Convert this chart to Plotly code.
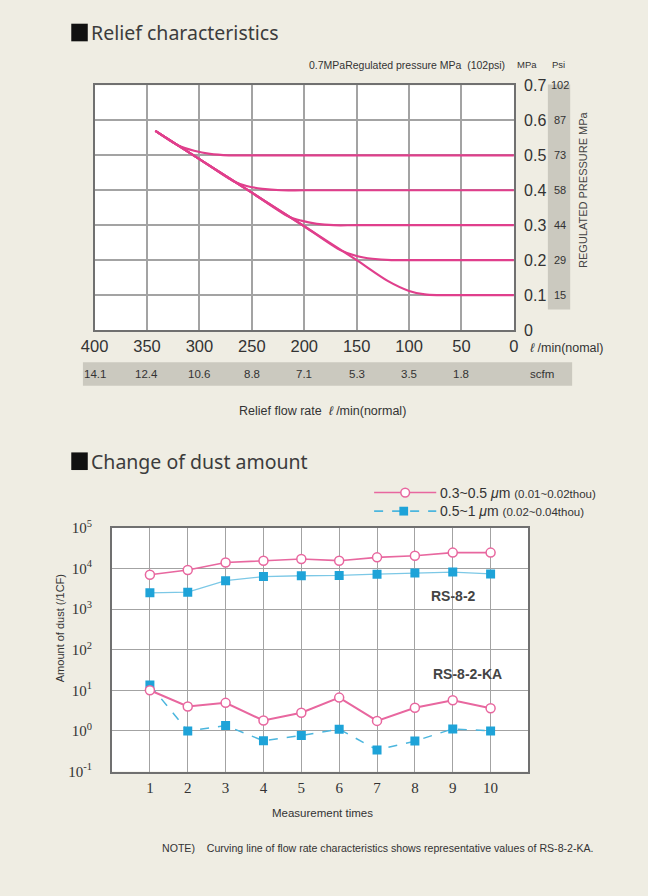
import plotly.graph_objects as go

# ---------------- data: relief characteristics ----------------
flow_ticks = [400, 350, 300, 250, 200, 150, 100, 50, 0]
scfm_labels = ["14.1", "12.4", "10.6", "8.8", "7.1", "5.3", "3.5", "1.8"]
mpa_ticks = [0, 0.1, 0.2, 0.3, 0.4, 0.5, 0.6, 0.7]
psi_labels = ["15", "29", "44", "58", "73", "87", "102"]

flow_05 = [342, 320, 305, 290, 272, 250, 0]
pres_05 = [0.57, 0.528, 0.513, 0.504, 0.5, 0.5, 0.5]
flow_04 = [342, 300, 267, 255, 240, 222, 200, 0]
pres_04 = [0.57, 0.489, 0.425, 0.412, 0.404, 0.4, 0.4, 0.4]
flow_03 = [342, 300, 250, 215, 203, 188, 172, 150, 0]
pres_03 = [0.57, 0.489, 0.393, 0.325, 0.313, 0.304, 0.3, 0.3, 0.3]
flow_02 = [342, 300, 250, 200, 165, 150, 135, 117, 100, 0]
pres_02 = [0.57, 0.489, 0.393, 0.297, 0.228, 0.212, 0.204, 0.2, 0.2, 0.2]
flow_01 = [342, 300, 250, 200, 150, 120, 100, 85, 72, 50, 0]
pres_01 = [0.57, 0.489, 0.393, 0.297, 0.2, 0.14, 0.112, 0.102, 0.1, 0.1, 0.1]

# ---------------- data: change of dust amount ----------------
times = [1, 2, 3, 4, 5, 6, 7, 8, 9, 10]
rs82_small = [7000, 9100, 14000, 15500, 17000, 15500, 18700, 20500, 24500, 24500]
rs82_large = [2500, 2600, 5000, 6300, 6600, 6700, 7200, 7700, 8100, 7300]
ka_small = [10, 4.0, 4.9, 1.8, 2.8, 6.6, 1.76, 3.7, 5.7, 3.6]
ka_large = [13.5, 1.0, 1.35, 0.57, 0.77, 1.1, 0.34, 0.56, 1.12, 1.0]
log_ticks = [0.1, 1, 10, 100, 1000, 10000, 100000]
log_labels = ["10<sup>-1</sup>", "10<sup>0</sup>", "10<sup>1</sup>", "10<sup>2</sup>",
              "10<sup>3</sup>", "10<sup>4</sup>", "10<sup>5</sup>"]

W, H = 648, 896
BG = "#efede3"
PINK = "#e03f8c"
PINK2 = "#e8679f"
BLUE = "#1ea3d8"
TXT = "#333333"
NARROW = "Liberation Sans Narrow, Arial Narrow, Liberation Sans, sans-serif"
SANS = "Noto Sans, Liberation Sans, sans-serif"
SERIF = "Liberation Serif, DejaVu Serif, serif"

# layout geometry (pixels)
TOP_L, TOP_R, TOP_T, TOP_B = 83, 515, 77, 327
BOT_L, BOT_R, BOT_T, BOT_B = 101, 530, 529, 778


def px(x):
    return x / W


def py(y):
    return 1 - y / H


fig = go.Figure()

for fx, fy in [(flow_05, pres_05), (flow_04, pres_04), (flow_03, pres_03),
               (flow_02, pres_02), (flow_01, pres_01)]:
    fig.add_trace(go.Scatter(x=fx, y=fy, mode="lines", xaxis="x", yaxis="y",
                             line=dict(color=PINK, width=2.2, shape="spline", smoothing=0.8),
                             showlegend=False, hoverinfo="skip"))

fig.add_trace(go.Scatter(x=times, y=rs82_large, mode="lines+markers", xaxis="x2", yaxis="y2",
                         line=dict(color="#7cc8e6", width=1.3),
                         marker=dict(symbol="square", size=9, color=BLUE, line=dict(width=0)),
                         showlegend=False))
fig.add_trace(go.Scatter(x=times, y=rs82_small, mode="lines+markers", xaxis="x2", yaxis="y2",
                         line=dict(color=PINK2, width=1.6),
                         marker=dict(symbol="circle", size=9, color="white",
                                     line=dict(color=PINK2, width=1.5)),
                         showlegend=False))
fig.add_trace(go.Scatter(x=times, y=ka_large, mode="lines+markers", xaxis="x2", yaxis="y2",
                         line=dict(color="#4cb6de", width=1.5, dash="dash"),
                         marker=dict(symbol="square", size=9, color=BLUE, line=dict(width=0)),
                         showlegend=False))
fig.add_trace(go.Scatter(x=times, y=ka_small, mode="lines+markers", xaxis="x2", yaxis="y2",
                         line=dict(color=PINK2, width=2),
                         marker=dict(symbol="circle", size=9, color="white",
                                     line=dict(color=PINK2, width=1.5)),
                         showlegend=False))

shapes = []
annotations = []


def note(text, x, y, size, xanchor="center", angle=0, color=TXT, family=NARROW, xref="paper",
         yref="paper"):
    annotations.append(dict(xref=xref, yref=yref, x=x, y=y, xanchor=xanchor, yanchor="middle",
                            showarrow=False, text=text, textangle=angle,
                            font=dict(family=family, size=size, color=color)))


# psi band and scfm band
shapes.append(dict(type="rect", xref="paper", yref="paper", layer="below",
                   x0=px(550), x1=px(573), y0=py(306), y1=py(76),
                   fillcolor="#cbc9bf", line=dict(width=0)))
shapes.append(dict(type="rect", xref="paper", yref="paper", layer="below",
                   x0=px(71), x1=px(575), y0=py(384), y1=py(360),
                   fillcolor="#cbc9bf", line=dict(width=0)))

# titles with black square blocks
for text, y in [("Relief characteristics", 23), ("Change of dust amount", 461)]:
    shapes.append(dict(type="rect", xref="paper", yref="paper",
                       x0=px(59), x1=px(76), y0=py(y + 9), y1=py(y - 9),
                       fillcolor="#111111", line=dict(width=0)))
    note(text, px(77), py(y), 19.5, xanchor="left", color="#3c3c3c", family=SANS)

# top chart header texts
note("0.7MPaRegulated pressure MPa  (102psi)", px(508), py(56), 10.5, xanchor="right")
note("MPa", px(529), py(56), 9.5)
note("Psi", px(561), py(56), 9.5)
for lab, val in zip(psi_labels, mpa_ticks[1:]):
    note(lab, px(562), val, 11, yref="y")
note("REGULATED PRESSURE MPa", px(586), py(183), 11, angle=-90, color="#444")
note("<i>ℓ</i> /min(nomal)", px(530), py(345), 12.5, xanchor="left")
for lab, fl in zip(scfm_labels, flow_ticks[:-1]):
    note(lab, fl, py(372), 11.5, xref="x")
note("scfm", px(544), py(372), 11.5)
note("Relief flow rate  <i>ℓ</i> /min(normal)", px(318), py(410), 12.5)

# bottom chart texts
note("<b>RS-8-2</b>", px(453), py(599), 14, color="#444", family="Liberation Sans, sans-serif")
note("<b>RS-8-2-KA</b>", px(467), py(678), 14, color="#444", family="Liberation Sans, sans-serif")
note("Amount of dust (/1CF)", px(47), py(632), 11, angle=-90)
note("Measurement times", px(318), py(820), 11.5)
note("NOTE)    Curving line of flow rate characteristics shows representative values of RS-8-2-KA.",
     px(150), py(856), 10.6, xanchor="left")

# manual legend
for yy, col, dash, main, sub in [(493, PINK2, "solid", "0.3~0.5 <i>μ</i>m", "(0.01~0.02thou)"),
                                 (512, "#4cb6de", "dash", "0.5~1 <i>μ</i>m", "(0.02~0.04thou)")]:
    shapes.append(dict(type="line", xref="paper", yref="paper", x0=px(371), x1=px(435),
                       y0=py(yy), y1=py(yy), line=dict(color=col, width=1.6, dash=dash)))
    note(main + " <span style='font-size:11.5px'>" + sub + "</span>", px(437), py(yy), 14,
         xanchor="left")
shapes.append(dict(type="circle", xref="paper", yref="paper", x0=px(398.5), x1=px(407.5),
                   y0=py(497.5), y1=py(488.5), fillcolor="white",
                   line=dict(color=PINK2, width=1.5)))
shapes.append(dict(type="rect", xref="paper", yref="paper", x0=px(397), x1=px(406),
                   y0=py(516.5), y1=py(507.5), fillcolor=BLUE, line=dict(width=0)))

GRID = "#a3a3a3"
AX = "#707070"

fig.update_layout(
    width=W, height=H,
    margin=dict(l=0, r=0, t=0, b=0),
    paper_bgcolor=BG, plot_bgcolor="white",
    showlegend=False,
    shapes=shapes, annotations=annotations,
    xaxis=dict(domain=[px(TOP_L), px(TOP_R)], anchor="y", range=[400, 0],
               tickvals=flow_ticks, ticktext=[str(v) for v in flow_ticks],
               showgrid=True, gridcolor=GRID, gridwidth=1.5,
               showline=True, linecolor=AX, linewidth=2, mirror=True,
               zeroline=False, ticks="", ticklabelstandoff=0,
               tickfont=dict(family=NARROW, size=16.5, color=TXT)),
    yaxis=dict(domain=[py(TOP_B), py(TOP_T)], anchor="x", range=[0, 0.7], side="right",
               tickvals=mpa_ticks, ticktext=["0", "0.1", "0.2", "0.3", "0.4", "0.5", "0.6", "0.7"],
               showgrid=True, gridcolor=GRID, gridwidth=1.5,
               showline=True, linecolor=AX, linewidth=2, mirror=True,
               zeroline=False, ticks="", ticklabelstandoff=5,
               tickfont=dict(family=NARROW, size=16, color=TXT)),
    xaxis2=dict(domain=[px(BOT_L), px(BOT_R)], anchor="y2", range=[0, 11],
                tickvals=times, showgrid=True, gridcolor=GRID, gridwidth=1.3,
                showline=True, linecolor=AX, linewidth=2, mirror=True,
                zeroline=False, ticks="", ticklabelstandoff=1,
                tickfont=dict(family=SERIF, size=15, color=TXT)),
    yaxis2=dict(domain=[py(BOT_B), py(BOT_T)], anchor="x2", type="log", range=[-1, 5],
                tickvals=log_ticks, ticktext=log_labels,
                showgrid=True, gridcolor=GRID, gridwidth=1.3,
                showline=True, linecolor=AX, linewidth=2, mirror=True,
                zeroline=False, ticks="", ticklabelstandoff=15,
                tickfont=dict(family=SERIF, size=15, color=TXT)),
)

fig.write_html(
    "out.html",
    config={"displayModeBar": False},
    post_script="document.body.style.margin='0';document.body.style.overflow='hidden';"
                "document.body.style.background='#efede3';",
)
